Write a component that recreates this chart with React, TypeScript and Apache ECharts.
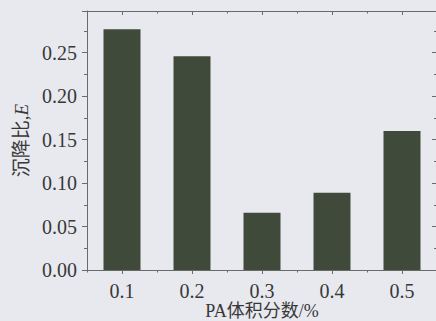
import React, { useEffect, useRef } from "react";
import * as echarts from "echarts";

const categories = ["0.1", "0.2", "0.3", "0.4", "0.5"];
const values = [0.277, 0.246, 0.066, 0.089, 0.16];
const yTickLabels = ["0.00", "0.05", "0.10", "0.15", "0.20", "0.25"];

const AXIS = "#6a6a6a";
const TEXT = "#383838";
const FONT = "'Liberation Serif', 'Noto Sans CJK SC', serif";

export default function App() {
  const ref = useRef<HTMLDivElement>(null);
  useEffect(() => {
    if (!ref.current) return;
    const chart = echarts.init(ref.current, undefined, { renderer: "svg" });
    const yBase = {
      type: "value",
      min: 0,
      max: 0.298,
      interval: 0.05,
      splitLine: { show: false },
      axisLine: { show: true, lineStyle: { color: AXIS, width: 1 } },
    };
    chart.setOption({
      animation: false,
      backgroundColor: "#e8e9ef",
      grid: { left: 87, top: 11, right: -1, bottom: 51, outerBoundsMode: "none", containLabel: false },
      xAxis: [
        {
          type: "category",
          data: categories,
          position: "bottom",
          name: "PA体积分数/%",
          nameLocation: "middle",
          nameMoveOverlap: false,
          nameGap: 32,
          nameTextStyle: { fontFamily: FONT, fontSize: 18, color: TEXT, verticalAlign: "top", lineHeight: 18 },
          axisLine: { show: true, lineStyle: { color: AXIS, width: 1 } },
          axisTick: { show: true, alignWithLabel: true, length: 4, lineStyle: { color: AXIS } },
          axisLabel: { fontFamily: FONT, fontSize: 20, color: TEXT, margin: 11 },
        },
        {
          type: "category",
          data: categories,
          position: "bottom",
          axisLine: { show: false },
          axisTick: { show: true, length: 2.5, lineStyle: { color: AXIS } },
          axisLabel: { show: false },
        },
        {
          type: "category",
          data: categories,
          position: "top",
          axisLine: { show: true, lineStyle: { color: AXIS, width: 1 } },
          axisTick: { show: true, inside: true, alignWithLabel: true, length: 4, lineStyle: { color: AXIS } },
          axisLabel: { show: false },
        },
        {
          type: "category",
          data: categories,
          position: "top",
          axisLine: { show: false },
          axisTick: { show: true, inside: true, length: 2.5, lineStyle: { color: AXIS } },
          axisLabel: { show: false },
        },
      ],
      yAxis: [
        {
          ...yBase,
          position: "left",
          name: "{a|沉降比,}{b|E}",
          nameLocation: "middle",
          nameMoveOverlap: false,
          nameGap: 56,
          nameRotate: 90,
          nameTextStyle: {
            rich: {
              a: { fontFamily: FONT, fontSize: 19, color: TEXT },
              b: { fontFamily: FONT, fontSize: 19, color: TEXT, fontStyle: "italic" },
            },
          },
          axisTick: { show: true, length: 5, lineStyle: { color: AXIS } },
          minorTick: { show: true, splitNumber: 2, length: 3, lineStyle: { color: AXIS } },
          axisLabel: {
            fontFamily: FONT,
            fontSize: 20,
            color: TEXT,
            margin: 10,
            showMaxLabel: false,
            formatter: (v: number) => {
              const i = Math.round(v / 0.05);
              return Math.abs(v - i * 0.05) < 1e-6 && yTickLabels[i] ? yTickLabels[i] : "";
            },
          },
        },
        {
          ...yBase,
          position: "right",
          axisTick: { show: true, inside: true, length: 5, lineStyle: { color: AXIS } },
          minorTick: { show: true, splitNumber: 2, length: 3, lineStyle: { color: AXIS } },
          axisLabel: { show: false },
        },
      ],
      series: [
        {
          type: "bar",
          xAxisIndex: 0,
          yAxisIndex: 0,
          data: values,
          barWidth: 37,
          itemStyle: { color: "#3f4a3b" },
        },
      ],
    });
    return () => chart.dispose();
  }, []);
  return (
    <div
      ref={ref}
      style={{ position: "fixed", left: 0, top: 0, width: 436, height: 321 }}
    />
  );
}
